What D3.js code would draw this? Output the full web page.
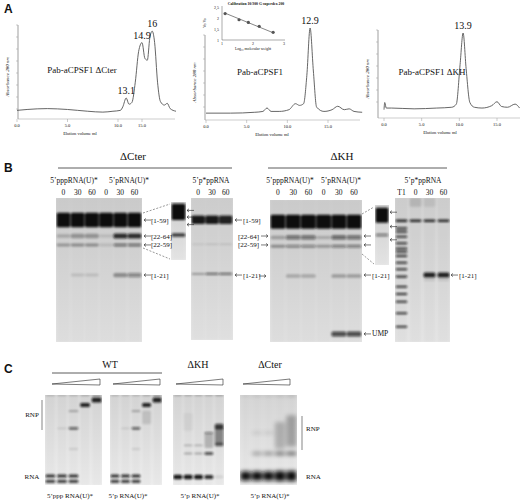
<!DOCTYPE html>
<html><head><meta charset="utf-8">
<script src="https://cdn.jsdelivr.net/npm/d3@7"></script>
<style>body{margin:0;background:#fff}svg{display:block}text{font-family:"Liberation Serif",serif;fill:#111}</style>
</head><body><svg id="c" width="520" height="504"></svg>
<script>
// ---------- DATA ----------
const traceCter = [[0,0.03],[1,0.04],[3,0.05],[5,0.04],[7,0.02],[8.5,0.01],[9.5,0.02],[10.5,0.03],[11,0.07],[11.7,0.17],[12.3,0.10],[12.9,0.12],[13.6,0.35],[14.3,0.70],[15,0.80],[15.6,0.62],[16.1,0.60],[16.6,0.85],[17.1,0.93],[17.6,0.80],[18.2,0.35],[18.8,0.13],[19.6,0.09],[20.2,0.11],[20.8,0.05],[22,0.02]];
const traceWT = [[0,0.01],[3,0.01],[6,0.02],[7,0.03],[7.5,0.07],[8,0.03],[9,0.03],[10.2,0.05],[11,0.12],[11.5,0.10],[12,0.12],[12.4,0.45],[12.8,1.0],[13.2,0.5],[13.6,0.08],[14.5,0.03],[15.5,0.05],[16.2,0.09],[17,0.05],[17.6,0.06],[18.2,0.03],[19.2,0.02]];
const traceKH = [[0,0.03],[0.1,0.12],[0.3,0.05],[1,0.05],[4,0.04],[7,0.05],[9,0.06],[9.6,0.1],[10.1,0.6],[10.5,1.0],[10.9,0.55],[11.4,0.12],[12,0.06],[13,0.05],[14.3,0.08],[15,0.13],[15.6,0.07],[16.4,0.06],[17.4,0.1],[18,0.05]];
const xTickLabels = ["0.0","5.0","10.0","15.0"];
const peaksCter = [[11.7,0.17,"13.1"],[15,0.80,"14.9"],[17.1,0.93,"16"]];
const peaksWT = [[12.8,1.0,"12.9"]];
const peaksKH = [[10.5,1.0,"13.9"]];
const calibX = [1.1,1.55,1.85,2.2,2.65];
const calibY = [2.2,1.92,1.8,1.62,1.35];
// gel B bands: [lane, migration, height, intensity]
const bandRows = {"[1-59]":0.153,"[22-64]":0.264,"[22-59]":0.326,"[1-21]":0.535,"UMP":0.944};
const gelB1 = [[0,.153,.1,1],[1,.153,.1,1],[2,.153,.1,1],[3,.153,.1,1],[4,.153,.1,1],[5,.153,.1,1],
 [0,.264,.025,.2],[1,.264,.03,.3],[2,.264,.03,.3],[3,.264,.02,.12],[4,.264,.035,.85],[5,.264,.035,.85],
 [0,.326,.02,.3],[1,.326,.02,.35],[2,.326,.02,.35],[3,.326,.02,.12],[4,.326,.02,.5],[5,.326,.02,.5],
 [1,.535,.02,.12],[2,.535,.02,.12],[4,.535,.03,.35],[5,.535,.03,.4]];
const gelB2 = [[0,.153,.06,.95],[1,.153,.06,.95],[2,.153,.06,.9],[0,.326,.015,.08],[1,.326,.015,.1],[2,.326,.015,.1],[0,.535,.012,.35],[1,.535,.016,.55],[2,.535,.016,.55]];
const gelB3 = [[0,.153,.1,1],[1,.153,.1,1],[2,.153,.1,1],[3,.153,.1,1],[4,.153,.1,1],[5,.153,.1,1],
 [0,.264,.025,.25],[1,.264,.03,.5],[2,.264,.03,.5],[3,.264,.02,.2],[4,.264,.03,.55],[5,.264,.03,.5],
 [0,.326,.02,.35],[1,.326,.02,.4],[2,.326,.02,.4],[3,.326,.02,.3],[4,.326,.02,.45],[5,.326,.02,.45],
 [1,.535,.025,.22],[2,.535,.025,.22],[4,.535,.025,.28],[5,.535,.025,.28],[4,.944,.035,.7],[5,.944,.035,.7]];
const ladderT1 = [.21,.234,.269,.315,.35,.373,.403,.449,.495,.546,.616,.667,.72,.801,.894];
const gelB4 = [[0,.158,.018,.9],[1,.158,.018,.9],[2,.158,.018,.9],[3,.158,.018,.9],[2,.535,.035,.9],[3,.535,.035,.9],[2,.57,.01,.15],[3,.57,.01,.15],[1,.03,.06,.12],[2,.03,.06,.08]];
const insetB1 = [[0,.17,.28,1],[0,.57,.06,.8]];
const insetB2 = [[0,.17,.25,1],[0,.5,.05,.45]];
// gel C bands
const gelC1 = [[0,.0,.02,.2],[1,.0,.02,.2],[2,.0,.02,.2],[3,.0,.02,.25],[4,.0,.02,.3],
 [0,.9,.035,.85],[1,.9,.035,.85],[2,.9,.035,.85],[0,.96,.03,.85],[1,.96,.03,.85],[2,.96,.03,.85],
 [1,.37,.015,.15],[2,.37,.025,.7],[2,.18,.02,.3],[2,.6,.015,.15],[3,.11,.045,.9],[4,.055,.055,.9]];
const gelC2 = [[0,.0,.02,.2],[1,.0,.02,.2],[2,.0,.02,.2],[3,.0,.02,.25],[4,.0,.02,.3],
 [0,.9,.035,.85],[1,.9,.035,.85],[2,.9,.035,.85],[0,.96,.03,.85],[1,.96,.03,.85],[2,.96,.03,.85],
 [1,.37,.015,.15],[2,.37,.025,.7],[2,.18,.02,.3],[2,.6,.015,.15],[3,.11,.045,.9],[3,.25,.15,.12],[4,.055,.055,.9]];
const gelC3 = [[0,.0,.02,.25],[1,.0,.02,.25],[2,.0,.02,.25],[3,.0,.02,.25],[4,.0,.02,.3],
 [0,.91,.05,.95],[1,.91,.05,.95],[2,.91,.05,.95],[3,.91,.045,.85],[4,.91,.03,.1],
 [1,.65,.015,.35],[2,.65,.015,.35],[3,.65,.03,.8],[1,.56,.015,.3],[2,.56,.015,.3],[3,.42,.02,.4],[3,.5,.18,.2],
 [4,.35,.06,.75],[4,.45,.2,.45],[4,.55,.04,.6],[1,.3,.2,.05]];
const gelC4 = [[0,.0,.02,.15],[1,.0,.02,.2],[2,.0,.02,.2],[3,.0,.02,.25],[4,.0,.02,.3],
 [0,.9,.1,1],[1,.9,.1,1],[2,.9,.1,1],[3,.9,.11,1],[4,.9,.11,1],
 [1,.65,.02,.5],[2,.65,.02,.6],[3,.65,.025,.75],[4,.65,.03,.75],[1,.42,.015,.25],[2,.42,.015,.25],[3,.45,.3,.22],[4,.4,.35,.28]];

// ---------- DRAW ----------
const svg = d3.select("#c");
const defs = svg.append("defs");
[["blur",1.3],["blur2",1.9]].forEach(([id,s])=>defs.append("filter").attr("id",id).attr("filterUnits","userSpaceOnUse").attr("x",0).attr("y",0).attr("width",520).attr("height",504)
  .append("feGaussianBlur").attr("stdDeviation",s));

function panelLetter(t,x,y){svg.append("text").text(t).attr("x",x).attr("y",y).style("font-family","Liberation Sans,Arial").style("font-weight","bold").attr("font-size",12);}
function txt(t,x,y,size,anchor){return svg.append("text").text(t).attr("x",x).attr("y",y).attr("font-size",size).attr("text-anchor",anchor||"middle");}

panelLetter("A",4,13);

function chrom(trace,xDom,xRng,yTop,yBase,axisX,axisTop,xEnd,tickVals,peaks,label,labelX,labelY,elution){
  const x = d3.scaleLinear().domain(xDom).range(xRng);
  const y = d3.scaleLinear().domain([0,1]).range([yBase,yTop]);
  const g = svg.append("g");
  g.append("line").attr("x1",axisX).attr("x2",axisX).attr("y1",axisTop).attr("y2",yBase+6).attr("stroke","#777").attr("stroke-width",0.7);
  d3.range(axisTop,yBase,12).forEach(v=>g.append("line").attr("x1",axisX-2).attr("x2",axisX).attr("y1",v).attr("y2",v).attr("stroke","#999").attr("stroke-width",0.5));
  g.append("line").attr("x1",axisX).attr("x2",xEnd).attr("y1",yBase+6).attr("y2",yBase+6).attr("stroke","#999").attr("stroke-width",0.5);
  tickVals.forEach((v,i)=>{
    g.append("line").attr("x1",x(v)).attr("x2",x(v)).attr("y1",yBase+6).attr("y2",yBase+9).attr("stroke","#999").attr("stroke-width",0.5);
    g.append("text").text(xTickLabels[i]).attr("x",x(v)).attr("y",yBase+14).attr("font-size",4.5).attr("text-anchor","middle");
  });
  g.append("path").datum(trace).attr("d",d3.line().x(d=>x(d[0])).y(d=>y(d[1])).curve(d3.curveMonotoneX))
   .attr("fill","none").attr("stroke","#555").attr("stroke-width",0.9);
  peaks.forEach(p=>g.append("text").text(p[2]).attr("x",x(p[0])).attr("y",y(p[1])-4).attr("font-size",10).attr("text-anchor","middle"));
  g.append("text").text(label).attr("x",labelX).attr("y",labelY).attr("font-size",9).attr("text-anchor","middle");
  g.append("text").text("Absorbance 280 nm").attr("transform",`translate(${axisX-9},${(axisTop+yBase)/2+8}) rotate(-90)`).attr("font-size",5).attr("text-anchor","middle").style("font-style","italic");
  g.append("text").text("Elution volume ml").attr("x",elution).attr("y",yBase+22).attr("font-size",4.5).attr("text-anchor","middle");
}
chrom(traceCter,[0,10,15,22],[17,118,142,176],25,113,18,25,175,[0,5,10,15],peaksCter,"Pab-aCPSF1 \u0394Cter",82,73,80);
chrom(traceWT,[0,15],[206,328],28,114,205,35,360,[0,5,10,15],peaksWT,"Pab-aCPSF1",260,75,272);
chrom(traceKH,[0,15],[384,497],33,112,378,30,520,[0,5,10,15],peaksKH,"Pab-aCPSF1 \u0394KH",432,75,440);

// inset calibration
(function(){
  const x=d3.scaleLinear().domain([1,3]).range([222,284]);
  const y=d3.scaleLinear().domain([1,2.5]).range([40,7]);
  const g=svg.append("g");
  g.append("line").attr("x1",222).attr("x2",222).attr("y1",6).attr("y2",40).attr("stroke","#555").attr("stroke-width",0.5);
  g.append("line").attr("x1",222).attr("x2",285).attr("y1",40).attr("y2",40).attr("stroke","#555").attr("stroke-width",0.5);
  [1,1.5,2,2.5].forEach(v=>g.append("text").text(String(v).replace(".",",")).attr("x",219).attr("y",y(v)+1.5).attr("font-size",4).attr("text-anchor","end"));
  [1,2,3].forEach(v=>g.append("text").text(v).attr("x",x(v)).attr("y",45).attr("font-size",4).attr("text-anchor","middle"));
  const pts=calibX.map((v,i)=>[v,calibY[i]]);
  g.append("line").attr("x1",x(1.1)).attr("y1",y(2.22)).attr("x2",x(2.65)).attr("y2",y(1.33)).attr("stroke","#333").attr("stroke-width",0.6);
  g.selectAll("circle").data(pts).join("circle").attr("cx",d=>x(d[0])).attr("cy",d=>y(d[1])).attr("r",1.6).attr("fill","#555");
  g.append("text").text("Calibration 10/300 G superdex 200").attr("x",256).attr("y",5).attr("font-size",3.8).attr("font-weight","bold").attr("text-anchor","middle");
  g.append("text").text("Log\u2081\u2080 molecular weight").attr("x",253).attr("y",50).attr("font-size",3.8).attr("text-anchor","middle");
  g.append("text").text("Ve/Vo").attr("transform","translate(206,23) rotate(-90)").attr("font-size",4).attr("text-anchor","middle");
})();

// gel helper: band centered at ys(pos)
function gel(x0,y0,w,h,n,bands,bg,filt,pad){
  const xs=d3.scaleBand().domain(d3.range(n)).range([x0,x0+w]).paddingInner(pad??0.03).paddingOuter(0.04);
  const ys=d3.scaleLinear().domain([0,1]).range([y0,y0+h]);
  const g=svg.append("g");
  const cid="clip"+Math.round(x0)+"_"+Math.round(y0);
  defs.append("clipPath").attr("id",cid).append("rect").attr("x",x0).attr("y",y0).attr("width",w).attr("height",h);
  const gid="grad"+cid;
  const lg=defs.append("linearGradient").attr("id",gid).attr("x1",0).attr("x2",0).attr("y1",0).attr("y2",1);
  lg.append("stop").attr("offset",0).attr("stop-color",d3.color(bg).darker(0.25));
  lg.append("stop").attr("offset",1).attr("stop-color",bg);
  g.append("rect").attr("x",x0).attr("y",y0).attr("width",w).attr("height",h).attr("fill",`url(#${gid})`);
  const inner=g.append("g").attr("clip-path",`url(#${cid})`).append("g").attr("filter",`url(#${filt||"blur"})`);
  inner.selectAll("rect.lane").data(d3.range(n)).join("rect").attr("class","lane")
   .attr("x",d=>xs(d)).attr("width",xs.bandwidth()).attr("y",y0).attr("height",h).attr("fill","#000").attr("opacity",0.04);
  inner.selectAll("rect.band").data(bands).join("rect").attr("class","band")
   .attr("x",d=>xs(d[0])).attr("width",xs.bandwidth())
   .attr("y",d=>ys(d[1])-(ys(d[2])-y0)/2).attr("height",d=>Math.max(1,ys(d[2])-y0))
   .attr("rx",1.5).attr("fill","#111").attr("opacity",d=>d[3]);
  return {xs,ys};
}
function arrow(xTip,y,dir){
  const L=7*-dir;
  svg.append("path").attr("d",`M${xTip+L},${y}H${xTip}M${xTip-2*dir},${y-1.6}L${xTip},${y}L${xTip-2*dir},${y+1.6}`).attr("stroke","#222").attr("fill","none").attr("stroke-width",0.6);
}

// ---------- B ----------
panelLetter("B",4,172);
txt("\u0394Cter",133,160,11); svg.append("line").attr("x1",58).attr("x2",232).attr("y1",168).attr("y2",168).attr("stroke","#333").attr("stroke-width",0.8);
txt("\u0394KH",342,160,11); svg.append("line").attr("x1",268).attr("x2",447).attr("y1",168).attr("y2",168).attr("stroke","#333").attr("stroke-width",0.8);
[["5\u2019pppRNA(U)*",74],["5\u2019pRNA(U)*",129],["5\u2019p*ppRNA",211],["5\u2019pppRNA(U)*",290],["5\u2019pRNA(U)*",341],["5\u2019p*ppRNA",423]].forEach(d=>txt(d[0],d[1],183,7.5));
const laneLabels=["0","30","60"];
const g1=gel(56,198,86,144,6,gelB1,"#e6e6e6");
const g2=gel(191,198,42,142,3,gelB2,"#e8e8e8");
const g3=gel(270,200,92,142,6,gelB3,"#e6e6e6");
const g4=gel(395,198,55,144,4,gelB4.concat(ladderT1.map(v=>[0,v,.014,.85])),"#e8e8e8","blur",0.15);
gel(171,202,15,58,1,insetB1,"#ececec");
gel(375,205,14,60,1,insetB2,"#ececec");
[[g1,0],[g1,3],[g2,0],[g3,0],[g3,3]].forEach(([g,o])=>laneLabels.forEach((l,i)=>txt(l,g.xs(o+i)+g.xs.bandwidth()/2,195,7.5)));
["T1","0","30","60"].forEach((l,i)=>txt(l,g4.xs(i)+g4.xs.bandwidth()/2,195,7.5));
const yb=k=>g1.ys(bandRows[k]);
function labR(t,x,y){svg.append("text").text(t).attr("x",x).attr("y",y+2.5).attr("font-size",7);}
["[1-59]","[22-64]","[22-59]","[1-21]"].forEach(k=>{arrow(144,yb(k),-1);labR(k,151,yb(k));});
["[1-59]","[1-21]"].forEach(k=>{arrow(235,yb(k),-1);labR(k,243,yb(k));});
arrow(266,yb("[1-21]")+1,1);
[0.145,0.26,0.39].forEach(v=>arrow(187,202+v*58,-1));
[[143,213,170,204],[143,248,170,259],[362,214,374,207],[362,254,374,264]].forEach(d=>svg.append("line").attr("x1",d[0]).attr("y1",d[1]).attr("x2",d[2]).attr("y2",d[3]).attr("stroke","#333").attr("stroke-dasharray","2,1.5").attr("stroke-width",0.5));
["[22-64]","[22-59]"].forEach(k=>{svg.append("text").text(k).attr("x",259).attr("y",yb(k)+2.5).attr("font-size",7).attr("text-anchor","end");arrow(268,yb(k),1);arrow(364,yb(k),-1);});
[0.12,0.36,0.58].forEach(v=>arrow(390,205+v*60,-1));
arrow(364,yb("[1-21]"),-1); labR("[1-21]",372,yb("[1-21]"));
arrow(451,yb("[1-21]"),-1); labR("[1-21]",459,yb("[1-21]"));
arrow(364,yb("UMP"),-1); svg.append("text").text("UMP").attr("x",372).attr("y",yb("UMP")+2.5).attr("font-size",7.5);

// ---------- C ----------
panelLetter("C",4,373);
txt("WT",110,368,10); svg.append("line").attr("x1",52).attr("x2",162).attr("y1",373).attr("y2",373).attr("stroke","#333").attr("stroke-width",0.8);
txt("\u0394KH",198,368,10); txt("\u0394Cter",270,368,10);
[[52,100],[113,160],[176,223],[243,290]].forEach(([a,b])=>svg.append("path").attr("d",`M${a},${384}L${b},${379}V${385}Z`).attr("fill","#fff").attr("stroke","#222").attr("stroke-width",0.6));
gel(45,395,57,90,5,gelC1,"#f1f1f1","blur",0.15);
gel(110,395,52,90,5,gelC2,"#f1f1f1","blur",0.15);
gel(173,395,51,90,5,gelC3,"#f1f1f1","blur",0.15);
gel(240,395,57,90,5,gelC4,"#f1f1f1","blur2",0.1);
txt("RNP",32,417,7); svg.append("line").attr("x1",42).attr("x2",42).attr("y1",400).attr("y2",430).attr("stroke","#333").attr("stroke-width",0.6);
txt("RNA",32,479,7);
svg.append("text").text("RNP").attr("x",306).attr("y",431).attr("font-size",7);
svg.append("line").attr("x1",302).attr("x2",302).attr("y1",416).attr("y2",450).attr("stroke","#333").attr("stroke-width",0.6);
svg.append("text").text("RNA").attr("x",306).attr("y",479).attr("font-size",7);
[["5\u2019ppp RNA(U)*",70],["5\u2019p RNA(U)*",128],["5\u2019p RNA(U)*",200],["5\u2019p RNA(U)*",270]].forEach(d=>txt(d[0],d[1],498,7));
</script></body></html>
